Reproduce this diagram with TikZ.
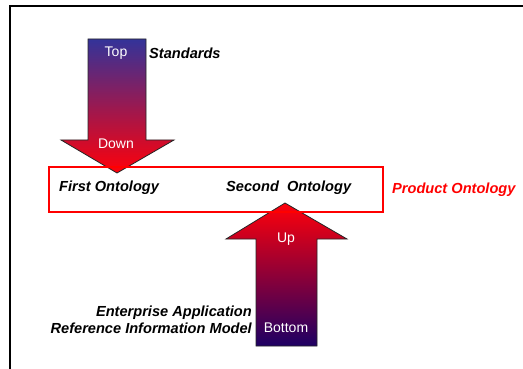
\documentclass[tikz,border=0pt]{standalone}
\usepackage{fontspec}
\setmainfont{Liberation Sans}
\usetikzlibrary{positioning}
\definecolor{topblue}{RGB}{51,51,153}
\definecolor{arrowred}{RGB}{255,0,10}
\definecolor{bottomnavy}{RGB}{30,0,100}
\tikzset{
	downarrow/.style={top color=topblue, bottom color=arrowred, draw=black!85, line width=0.8pt},
	uparrow/.style={top color=arrowred, bottom color=bottomnavy, draw=black!85, line width=0.8pt},
	arrowtext/.style={text=white, font=\fontsize{14}{16}\selectfont, inner sep=0pt},
	tagtext/.style={font=\fontsize{14.6}{17}\selectfont\bfseries\itshape, inner sep=0pt},
	ontobox/.style={draw=red, line width=2pt, minimum width=334pt, minimum height=45pt, inner sep=0pt},
}
\begin{document}
\begin{tikzpicture}[x=1pt, y=-1pt]
	\useasboundingbox (0,0) rectangle (523,369);
	\draw[line width=1.8pt] (523,6) -- (10,6) -- (10,369);
	% top down
	\path[downarrow] (88,39) -- (146,39) -- (146,140) -- (174,140) -- (117,173) -- (61,140) -- (88,140) -- cycle;
	\node[arrowtext] (top) at (116,53) {Top};
	\node[arrowtext] (down) at (116,144) {Down};
	\node[tagtext, anchor=west] (standards) at (149,53) {Standards};
	% bottom up
	\path[uparrow] (285,203) -- (347,239) -- (317,239) -- (317,346) -- (256,346) -- (256,239) -- (226,239) -- cycle;
	\node[arrowtext] (up) at (286,239) {Up};
	\node[arrowtext] (bottom) at (286,328) {Bottom};
	\node[tagtext, anchor=east, align=right] (eaim) at (252,320) {Enterprise Application\\Reference Information Model};
	% ontologies
	\node[ontobox] (box) at (216,189.5) {};
	\node[tagtext, anchor=west] (first) at (59,188) {First Ontology};
	\node[tagtext, anchor=west] (second) at (226,188) {Second\ \ Ontology};
	\node[tagtext, text=red, anchor=west, right=8pt of box.east] (product) {Product Ontology};
\end{tikzpicture}
\end{document}
